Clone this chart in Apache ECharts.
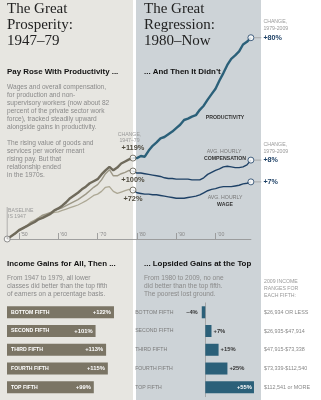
<!DOCTYPE html>
<html><head><meta charset="utf-8">
<script src="https://cdn.jsdelivr.net/npm/echarts@6/dist/echarts.min.js"></script>
<style>html,body{margin:0;padding:0;background:#fff}#c{width:321px;height:400px}</style>
</head><body><div id="c"></div>
<script>
// ---------- data ----------
const yearsLeft = [1947,1948,1949,1950,1951,1952,1953,1954,1955,1956,1957,1958,1959,1960,1961,1962,1963,1964,1965,1966,1967,1968,1969,1970,1971,1972,1973,1974,1975,1976,1977,1978,1979];
const prodLeft  = [0,4,8,13,16,19,22,25,29,31,34,37,42,45,49,54,60,64,68,73,77,82,85,88,95,101,106,101,105,111,114,117,119];
const compLeft  = [0,4,8,12,15,19,24,27,31,35,37,39,42,44,46,49,52,55,58,62,66,71,76,80,87,96,102,93,93,96,98,101,100];
const wageLeft  = [0,4,9,13,16,20,25,28,31,34,36,37,39,40,42,44,46,48,50,53,56,60,64,66,70,76,77,70,67,69,71,73,72];

const yearsRight = [1979,1980,1981,1982,1983,1984,1985,1986,1987,1988,1989,1990,1991,1992,1993,1994,1995,1996,1997,1998,1999,2000,2001,2002,2003,2004,2005,2006,2007,2008,2009];
const prodRight  = [119,119,122,121,130,137,142,148,150,154,158,163,168,175,177,180,182,190,196,205,213,221,233,244,256,265,270,276,286,290,296];
const compRight  = [100,97,97,96,95,94,93,92,90,89,89,88,88,88,88,87,87,87,90,95,98,101,103,106,107,106,105,105,106,109,116];
const wageRight  = [72,68,67,66,66,65,65,64,63,62,61,60,60,60,61,62,63,65,68,71,73,74,76,77,77,77,78,79,81,82,84];

const changeLeft  = ['+119%','+100%','+72%'];
const changeRight = ['+80%','+8%','+7%'];

const tickYears  = [1950,1960,1970,1980,1990,2000];
const tickLabels = ["'50","'60","'70","'80","'90","'00"];

const fifths      = ['BOTTOM FIFTH','SECOND FIFTH','THIRD FIFTH','FOURTH FIFTH','TOP FIFTH'];
const gains4779   = [122,101,113,115,99];
const gains8009   = [-4,7,15,25,55];
const ranges2009  = ['$26,934 OR LESS','$26,935-$47,914','$47,915-$73,338','$73,339-$112,540','$112,541 or MORE'];

// ---------- style ----------
const SANS = '"Liberation Sans", Arial, sans-serif';
const SERIF = '"Liberation Serif", "DejaVu Serif", serif';
const TAUPE = '#7b7565', TEAL = '#2b6079', NAVY = '#1e4166';
const pair = (xs, ys) => xs.map((x, i) => [x, ys[i]]);
const last = a => a[a.length - 1];

const chart = echarts.init(document.getElementById('c'), null, {renderer: 'canvas', width: 321, height: 400});

const pctLabel = v => (v < 0 ? '–' : '+') + Math.abs(v) + '%';

chart.setOption({
  backgroundColor: '#fff',
  animation: false,
  grid: [
    {left: 7.2, top: 35, width: 243.7, height: 204},
    {left: 7, top: 302.9, width: 114, height: 93.75},
    {left: 196.45, top: 302.9, width: 61.95, height: 93.75}
  ],
  xAxis: [
    {gridIndex: 0, type: 'value', min: 1947, max: 2009,
     axisLine: {show: true, lineStyle: {color: '#8e8e8e', width: 0.8}},
     axisTick: {show: true, customValues: tickYears, inside: true, length: 6, lineStyle: {color: '#8e8e8e', width: 0.8}},
     axisLabel: {show: true, customValues: tickYears, inside: true, margin: 1.5,
       formatter: v => tickLabels[tickYears.indexOf(v)], align: 'left', verticalAlign: 'bottom',
       padding: [0, 0, 0, 2], fontSize: 5.2, color: '#8a8a8a', fontFamily: SANS},
     splitLine: {show: false}},
    {gridIndex: 1, type: 'value', min: 0, max: 130, show: false},
    {gridIndex: 2, type: 'value', min: -10, max: 60, show: false}
  ],
  yAxis: [
    {gridIndex: 0, type: 'value', min: 0, max: 300, show: false},
    {gridIndex: 1, type: 'category', inverse: true, data: fifths, z: 10,
     axisLine: {show: false}, axisTick: {show: false},
     axisLabel: {inside: true, margin: 4, color: '#fff', fontWeight: 'bold', fontSize: 5.2, fontFamily: SANS}},
    {gridIndex: 2, type: 'category', inverse: true, data: fifths,
     axisLine: {show: true, onZero: true, lineStyle: {color: '#9a9a9a', width: 0.8}}, axisTick: {show: false},
     axisLabel: {margin: 61.3, align: 'left', color: '#7a7a7a', fontSize: 5.2, fontFamily: SANS}}
  ],
  series: [
    {type: 'line', xAxisIndex: 0, yAxisIndex: 0, data: pair(yearsLeft, wageLeft), symbol: 'none', z: 3,
     lineStyle: {color: '#aca794', width: 1.3}},
    {type: 'line', xAxisIndex: 0, yAxisIndex: 0, data: pair(yearsLeft, compLeft), symbol: 'none', z: 3,
     lineStyle: {color: '#9d9887', width: 1.4}},
    {type: 'line', xAxisIndex: 0, yAxisIndex: 0, data: pair(yearsLeft, prodLeft), symbol: 'none', z: 4,
     lineStyle: {color: '#6f6a5b', width: 2.4}},
    {type: 'line', xAxisIndex: 0, yAxisIndex: 0, data: pair(yearsRight, wageRight), symbol: 'none', z: 3,
     lineStyle: {color: NAVY, width: 1.4}},
    {type: 'line', xAxisIndex: 0, yAxisIndex: 0, data: pair(yearsRight, compRight), symbol: 'none', z: 3,
     lineStyle: {color: NAVY, width: 1.4}},
    {type: 'line', xAxisIndex: 0, yAxisIndex: 0, data: pair(yearsRight, prodRight), symbol: 'none', z: 4,
     lineStyle: {color: TEAL, width: 2.4}},
    {type: 'scatter', xAxisIndex: 0, yAxisIndex: 0, symbolSize: 6, z: 6,
     itemStyle: {color: '#fff', borderColor: '#777', borderWidth: 1},
     data: [[yearsLeft[0], prodLeft[0]]]},
    {type: 'scatter', xAxisIndex: 0, yAxisIndex: 0, symbolSize: 6, z: 6,
     itemStyle: {color: '#fff', borderColor: '#5e5a4d', borderWidth: 1},
     data: [[last(yearsLeft), last(prodLeft)], [last(yearsLeft), last(compLeft)], [last(yearsLeft), last(wageLeft)]]},
    {type: 'scatter', xAxisIndex: 0, yAxisIndex: 0, symbolSize: 6, z: 6,
     itemStyle: {color: '#fff', borderColor: NAVY, borderWidth: 1},
     data: [[last(yearsRight), last(prodRight)], [last(yearsRight), last(compRight)], [last(yearsRight), last(wageRight)]]},
    {type: 'bar', xAxisIndex: 1, yAxisIndex: 1, barWidth: 12, data: gains4779,
     itemStyle: {color: TAUPE},
     label: {show: true, position: 'insideRight', distance: 3, formatter: p => pctLabel(p.value),
       color: '#fff', fontWeight: 'bold', fontSize: 5.8, fontFamily: SANS}},
    {type: 'bar', xAxisIndex: 2, yAxisIndex: 2, barWidth: 12, itemStyle: {color: TEAL},
     data: gains8009.map(v => ({
       value: v,
       label: {show: true, formatter: pctLabel(v), fontWeight: 'bold', fontSize: 5.8, fontFamily: SANS,
         position: v < 0 ? 'left' : (v > 40 ? 'insideRight' : 'right'),
         distance: v < 0 ? 4 : 2, color: v > 40 ? '#fff' : '#333'}
     }))}
  ]
});

// ---------- annotations (positions of data-linked labels come from the scales) ----------
const G = [];
function txt(text, x, y, size, color, weight, align, family) {
  G.push({type: 'text', z: 100, silent: true,
    style: {text: text, x: x, y: y, fill: color, font: (weight || 'normal') + ' ' + size + 'px ' + (family || SANS),
      align: align || 'left', verticalAlign: 'middle'}});
}
function line(x1, y1, x2, y2, color, w) {
  G.push({type: 'line', z: 50, silent: true, shape: {x1, y1, x2, y2}, style: {stroke: color, lineWidth: w || 0.8}});
}
G.push({type: 'rect', z: -10, silent: true, shape: {x: 0, y: 0, width: 133, height: 400}, style: {fill: '#e7e6e1'}});
G.push({type: 'rect', z: -10, silent: true, shape: {x: 136, y: 0, width: 125, height: 400}, style: {fill: '#cdd3d7'}});

// titles
['The Great', 'Prosperity:', '1947–79'].forEach((t, i) => txt(t, 7, 9.5 + i * 16, 15, '#222', 'normal', 'left', SERIF));
['The Great', 'Regression:', '1980–Now'].forEach((t, i) => txt(t, 144, 9.5 + i * 16, 15, '#222', 'normal', 'left', SERIF));
txt('Pay Rose With Productivity ...', 7, 71.5, 7.9, '#111', 'bold');
txt('... And Then It Didn\u2019t', 144, 71.5, 7.9, '#111', 'bold');
const body1 = ['Wages and overall compensation,', 'for production and non-', 'supervisory workers (now about 82',
  'percent of the private sector work', 'force), tracked steadily upward', 'alongside gains in productivity.'];
body1.forEach((t, i) => txt(t, 7, 87 + i * 8, 6.6, '#8a8a8a'));
const body2 = ['The rising value of goods and', 'services per worker meant', 'rising pay. But that', 'relationship ended', 'in the 1970s.'];
body2.forEach((t, i) => txt(t, 7, 143 + i * 8, 6.6, '#8a8a8a'));

// baseline note
txt('BASELINE', 8, 210.7, 5.2, '#999');
txt('IS 1947', 8, 216.5, 5.2, '#999');
const p0 = chart.convertToPixel({gridIndex: 0}, [yearsLeft[0], prodLeft[0]]);
line(p0[0], 207, p0[0], p0[1], '#999', 0.7);

// 1979 change labels
const pP = chart.convertToPixel({gridIndex: 0}, [last(yearsLeft), last(prodLeft)]);
const pC = chart.convertToPixel({gridIndex: 0}, [last(yearsLeft), last(compLeft)]);
const pW = chart.convertToPixel({gridIndex: 0}, [last(yearsLeft), last(wageLeft)]);
txt('CHANGE,', pP[0] - 3.5, pP[1] - 24, 5.2, '#999', 'normal', 'center');
txt('1947–79', pP[0] - 3.5, pP[1] - 18, 5.2, '#999', 'normal', 'center');
txt(changeLeft[0], pP[0], pP[1] - 10, 7.4, '#4f4b3f', 'bold', 'center');
txt(changeLeft[1], pC[0], pC[1] + 8.8, 7.4, '#4f4b3f', 'bold', 'center');
txt(changeLeft[2], pW[0], pW[1] + 9.3, 7.4, '#4f4b3f', 'bold', 'center');

// 2009 change labels
const rP = chart.convertToPixel({gridIndex: 0}, [last(yearsRight), last(prodRight)]);
const rC = chart.convertToPixel({gridIndex: 0}, [last(yearsRight), last(compRight)]);
const rW = chart.convertToPixel({gridIndex: 0}, [last(yearsRight), last(wageRight)]);
[[rP, 0], [rC, 1], [rW, 2]].forEach(([p, i]) => {
  line(p[0] + 3.2, p[1], p[0] + 10.5, p[1], '#999', 0.7);
  txt(changeRight[i], p[0] + 12.5, p[1], 7.2, NAVY, 'bold', 'left');
});
[rP, rC].forEach(p => {
  txt('CHANGE,', p[0] + 12.5, p[1] - 15.8, 5.2, '#999');
  txt('1979-2009', p[0] + 12.5, p[1] - 9, 5.2, '#999');
});

// series names
txt('PRODUCTIVITY', 225, 118, 5.2, '#333', 'bold', 'center');
txt('AVG. HOURLY', 224, 152, 5.2, '#777', 'normal', 'center');
txt('COMPENSATION', 225, 158.6, 5.2, '#333', 'bold', 'center');
txt('AVG. HOURLY', 225, 198, 5.2, '#777', 'normal', 'center');
txt('WAGE', 225, 204.6, 5.2, '#333', 'bold', 'center');

// lower section
txt('Income Gains for All, Then ...', 7, 263.7, 7.9, '#111', 'bold');
txt('... Lopsided Gains at the Top', 144, 263.7, 7.9, '#111', 'bold');
['From 1947 to 1979, all lower', 'classes did better than the top fifth', 'of earners on a percentage basis.']
  .forEach((t, i) => txt(t, 7, 278 + i * 8.1, 6.6, '#8a8a8a'));
['From 1980 to 2009, no one', 'did better than the top fifth.', 'The poorest lost ground.']
  .forEach((t, i) => txt(t, 144, 278 + i * 8.1, 6.6, '#8a8a8a'));
['2009 INCOME', 'RANGES FOR', 'EACH FIFTH:'].forEach((t, i) => txt(t, 264, 282 + i * 6.7, 5.2, '#999'));
fifths.forEach((f, i) => {
  const y = chart.convertToPixel({yAxisIndex: 2}, f);
  txt(ranges2009[i], 264, y, 5.4, '#888');
});

chart.setOption({graphic: G});
</script></body></html>
